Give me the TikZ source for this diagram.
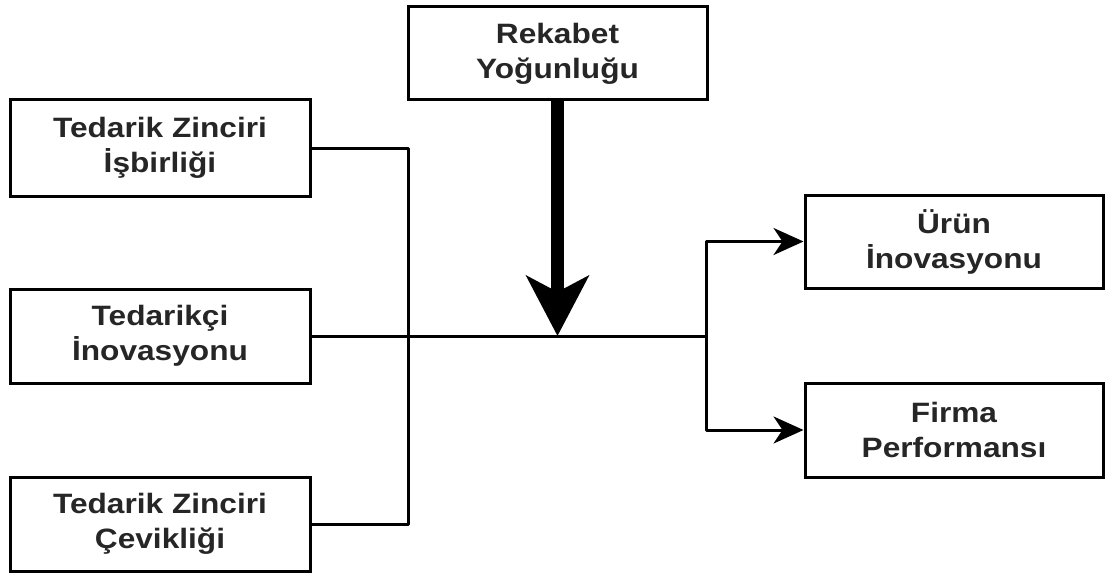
\documentclass[tikz,border=0pt]{standalone}
\usepackage{fontspec}
\setmainfont{Liberation Sans}
\newfontfamily\boxfont[FakeStretch=1.13]{Liberation Sans Bold}
\usetikzlibrary{arrows.meta}
\begin{document}
\begin{tikzpicture}[x=1pt,y=-1pt,
  box/.style={draw=black,line width=3pt,fill=white,align=center,
    text=black!85,font=\boxfont\fontsize{28}{35}\selectfont,inner sep=0pt},
  conn/.style={line width=3pt,line join=round},
  arr/.style={conn,-{Stealth[length=30pt,width=27pt,inset=9pt]}},
  big/.style={line width=13pt,-{Stealth[length=60pt,width=62pt,inset=16pt]}}]
\useasboundingbox (0,0) rectangle (1105,575);
\node[box,minimum width=299pt,minimum height=93pt] (rek) at (557.5,53.5) {Rekabet\\Yoğunluğu};
\node[box,minimum width=300pt,minimum height=96pt] (isb) at (160,148) {Tedarik Zinciri\\İşbirliği};
\node[box,minimum width=300pt,minimum height=94pt] (ted) at (160,336) {Tedarikçi\\İnovasyonu};
\node[box,minimum width=300pt,minimum height=94pt] (cev) at (160,524) {Tedarik Zinciri\\Çevikliği};
\node[box,minimum width=298pt,minimum height=93pt] (urun) at (954,241.5) {Ürün\\İnovasyonu};
\node[box,minimum width=298pt,minimum height=94pt] (firma) at (954,430) {Firma\\Performansı};
\coordinate (jl) at (408,336);
\coordinate (jm) at (557.5,336);
\coordinate (jr) at (706,336);
\draw[conn] (isb.east) -| (jl) |- (cev.east);
\draw[conn] (ted.east) -- (jr);
\draw[arr] (jr) |- (urun.west);
\draw[arr] (jr) |- (firma.west);
\draw[big] (rek.south) -- (jm);
\end{tikzpicture}
\end{document}
